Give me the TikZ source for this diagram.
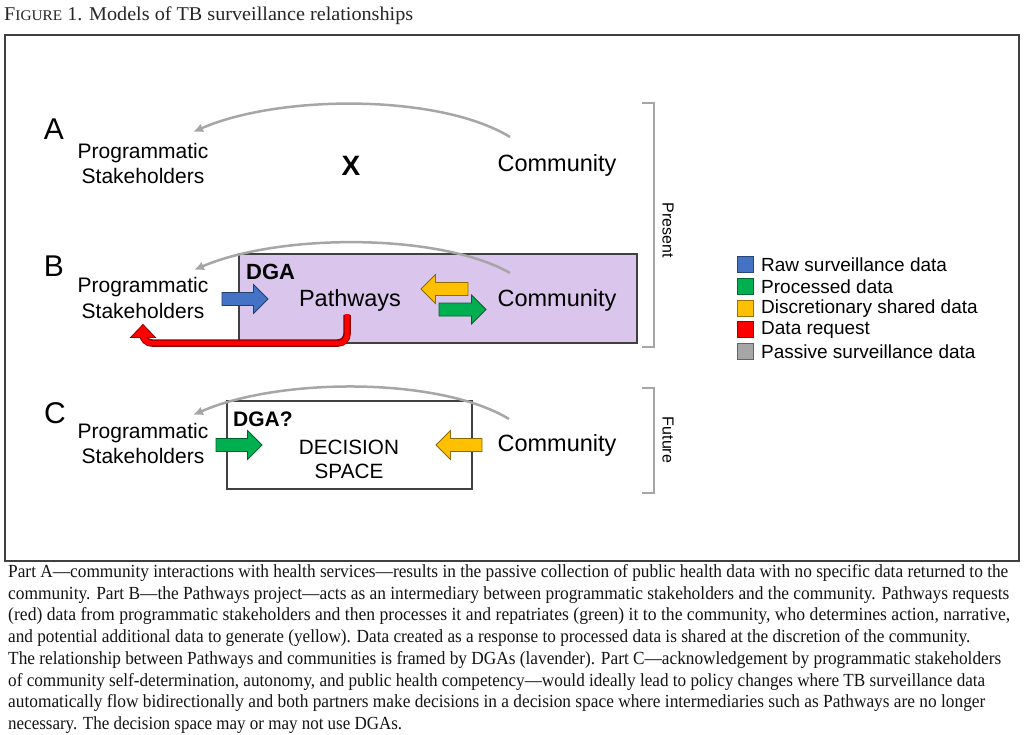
\documentclass[tikz,border=0pt]{standalone}
\usepackage{fontspec}
\setmainfont{Liberation Serif}
\setsansfont{Liberation Sans}
\usetikzlibrary{arrows.meta}
\definecolor{lav}{RGB}{218,197,236}
\definecolor{cblue}{RGB}{68,114,196}
\definecolor{cgreen}{RGB}{0,176,80}
\definecolor{cyellow}{RGB}{255,192,0}
\definecolor{cred}{RGB}{255,0,0}
\definecolor{cgray}{RGB}{166,166,166}
\definecolor{frm}{RGB}{64,64,64}
\newcommand\szf[2]{\fontsize{#1}{#2}\selectfont}
% fat arrow pointing right: xstart, xtip, ycenter, colour
\newcommand\fatR[4]{%
  \filldraw[fill=#4, draw=#4!55!black, line width=0.8pt]
    (#1,#3-6.5) -- (#2-14.5,#3-6.5) -- (#2-14.5,#3-14.5) -- (#2,#3)
    -- (#2-14.5,#3+14.5) -- (#2-14.5,#3+6.5) -- (#1,#3+6.5) -- cycle;}
% fat arrow pointing left: xtip, xend, ycenter, colour
\newcommand\fatL[4]{%
  \filldraw[fill=#4, draw=#4!55!black, line width=0.8pt]
    (#1,#3) -- (#1+14.5,#3-14.5) -- (#1+14.5,#3-6.5) -- (#2,#3-6.5)
    -- (#2,#3+6.5) -- (#1+14.5,#3+6.5) -- (#1+14.5,#3+14.5) -- cycle;}
\newcommand\capl[3]{\node[capt] (cap#1) at (8,{577.5+21.7*(#1-1)}) {\resizebox{#2pt}{\height}{#3}};}
\begin{document}
\begin{tikzpicture}[x=1pt,y=-1pt,
  every node/.style={inner sep=0pt},
  ps/.style={font=\sffamily\szf{21}{25.5}, align=center},
  comm/.style={font=\sffamily\szf{23.5}{23.5}, anchor=base},
  big/.style={font=\sffamily\szf{30}{30}, anchor=base},
  bold/.style={font=\sffamily\bfseries\szf{22}{22}, anchor=base west},
  passive/.style={draw=cgray, line width=2.5pt, -{Latex[length=10pt,width=9pt]}},
  brk/.style={draw=cgray, line width=1.4pt},
  boxst/.style={draw=frm, line width=1.2pt},
  leg/.style={font=\sffamily\szf{19}{19}, anchor=west},
  side/.style={font=\sffamily\szf{16}{16}, rotate=-90},
  capt/.style={font=\szf{18.5}{18.5}, anchor=base west, text=black!92},
]
\useasboundingbox (0,0) rectangle (1024,735);
\fill[white] (0,0) rectangle (1024,735);

% title and frame
\node[anchor=base west, font=\szf{19.5}{19.5}, text=black!85] (title) at (4,20.7)
  {\resizebox{409pt}{\height}{F{\szf{14.8}{14.8}IGURE} 1. Models of TB surveillance relationships}};
\draw[draw=frm, line width=1.2pt] (5,35) rectangle (1019,561);

% boxes
\node[boxst, fill=lav, minimum width=398pt, minimum height=89pt] (boxB) at (438,298.5) {};
\node[boxst, fill=white, minimum width=245pt, minimum height=88pt] (boxC) at (349.5,445) {};

% row A
\node[big] (lblA) at (54,139.5) {A};
\node[ps] (psA) at (143,163.5) {Programmatic\\Stakeholders};
\node[font=\sffamily\bfseries\szf{28}{28}, anchor=base] (xA) at (351,176) {X};
\node[comm] (comA) at (557,172) {Community};
\coordinate (aS) at (510,137);
\coordinate (aE) at (193,132);
\draw[passive] (aS) .. controls (440,94) and (280,94) .. (aE);

% row B
\node[big] (lblB) at (54,276.5) {B};
\node[ps] (psB) at (143,298) {Programmatic\\Stakeholders};
\node[bold] (dgaB) at (246,279) {DGA};
\node[comm] (pathB) at (350,306.7) {Pathways};
\node[comm] (comB) at (557,306) {Community};
\fatR{222}{268}{299}{cblue}
\fatL{421}{468}{289}{cyellow}
\fatR{439}{486}{309.5}{cgreen}
\coordinate (bS) at (510,273);
\coordinate (bE) at (194,270);
\draw[passive] (bS) .. controls (440,233) and (280,233) .. (bE);
% red data request
\coordinate (rS) at (347,315);
\coordinate (rE) at (143,336);
\draw[draw=cred!55!black, line width=7.5pt, rounded corners=9pt] (rS) |- (245,343) -- (143,343) -- (rE);
\filldraw[fill=cred, draw=cred!55!black, line width=0.8pt] (130.5,337.5) -- (143,324.5) -- (155.5,337.5) -- cycle;
\draw[draw=cred, line width=5pt, rounded corners=8pt] ([yshift=1pt]rS) |- (245,343) -- (143,343) -- ([yshift=1pt]rE);

% row C
\node[big] (lblC) at (55,423) {C};
\node[ps] (psC) at (143,443.5) {Programmatic\\Stakeholders};
\node[font=\sffamily\bfseries\szf{21}{21}, anchor=base west] (dgaC) at (233,426) {DGA?};
\node[font=\sffamily\szf{20.7}{24}, align=center] (decC) at (349,459) {DECISION\\SPACE};
\node[comm] (comC) at (557,451.5) {Community};
\fatR{216}{262}{445}{cgreen}
\fatL{436}{482}{445}{cyellow}
\coordinate (cS) at (509,419);
\coordinate (cE) at (193,415);
\draw[passive] (cS) .. controls (440,377) and (280,377) .. (cE);

% brackets
\draw[brk] (642,103) -- (654,103) -- (654,347) -- (642,347);
\draw[brk] (642,388) -- (654,388) -- (654,493) -- (642,493);
\node[side] (present) at (668,230) {Present};
\node[side] (future) at (668,440) {Future};

% legend
\foreach \c/\t [count=\i from 0] in {cblue/Raw surveillance data, cgreen/Processed data, cyellow/Discretionary shared data, cred/Data request, cgray/Passive surveillance data}{
  \filldraw[fill=\c, draw=\c!60!black, line width=0.9pt] (737,{256.5+21.8*\i}) rectangle (753,{272.5+21.8*\i});
  \node[leg] (leg\i) at (761,{264.5+21.8*\i}) {\t};
}

% caption
\capl{1}{1000}{Part A—community interactions with health services—results in the passive collection of public health data with no specific data returned to the}
\capl{2}{1001}{community. Part B—the Pathways project—acts as an intermediary between programmatic stakeholders and the community. Pathways requests}
\capl{3}{1002}{(red) data from programmatic stakeholders and then processes it and repatriates (green) it to the community, who determines action, narrative,}
\capl{4}{962}{and potential additional data to generate (yellow). Data created as a response to processed data is shared at the discretion of the community.}
\capl{5}{993}{The relationship between Pathways and communities is framed by DGAs (lavender). Part C—acknowledgement by programmatic stakeholders}
\capl{6}{977}{of community self-determination, autonomy, and public health competency—would ideally lead to policy changes where TB surveillance data}
\capl{7}{977}{automatically flow bidirectionally and both partners make decisions in a decision space where intermediaries such as Pathways are no longer}
\capl{8}{394}{necessary. The decision space may or may not use DGAs.}
\end{tikzpicture}
\end{document}
